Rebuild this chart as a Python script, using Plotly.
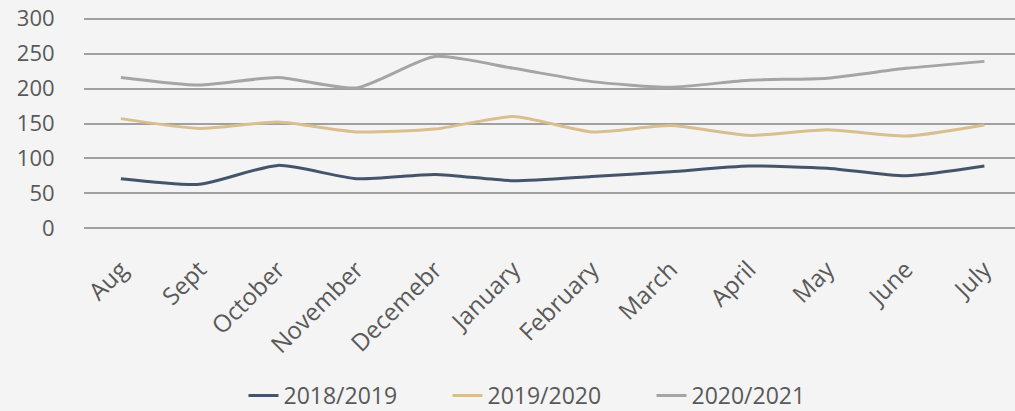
import plotly.graph_objects as go

months = ["Aug", "Sept", "October", "November", "Decemebr", "January",
          "February", "March", "April", "May", "June", "July"]
s_2018_2019 = [71, 63, 90, 71, 77, 68, 74, 81, 89, 86, 75, 89]
s_2019_2020 = [157, 143, 152, 138, 142, 160, 138, 147, 133, 141, 132, 148]
s_2020_2021 = [216, 205, 216, 201, 246, 229, 210, 202, 212, 215, 229, 239]
y_ticks = [0, 50, 100, 150, 200, 250, 300]

series = [
    ("2018/2019", s_2018_2019, "#44546A"),
    ("2019/2020", s_2019_2020, "#D9BE8F"),
    ("2020/2021", s_2020_2021, "#A5A5A5"),
]

fig = go.Figure()
for name, vals, color in series:
    fig.add_trace(go.Scatter(
        x=list(range(len(months))), y=vals, name=name, mode="lines",
        line=dict(color=color, width=3, shape="spline", smoothing=0.6),
    ))

font_family = "Open Sans, Noto Sans, sans-serif"
fig.update_layout(
    width=1015, height=411,
    paper_bgcolor="#F4F4F4", plot_bgcolor="#F4F4F4",
    margin=dict(l=84, r=0, t=16, b=180, autoexpand=False),
    font=dict(family=font_family, size=22, color="#595959"),
    showlegend=True,
    legend=dict(orientation="h", x=0.5, xanchor="center", y=-0.765, yanchor="middle",
                font=dict(size=23, color="#595959"), bgcolor="rgba(0,0,0,0)",
                entrywidth=159, entrywidthmode="pixels"),
)
fig.update_xaxes(
    tickmode="array", tickvals=list(range(len(months))), ticktext=months,
    range=[-0.47, 11.39], tickangle=-45, showgrid=False, zeroline=False,
    showline=False, ticks="outside", ticklen=14, tickcolor="rgba(0,0,0,0)",
    tickfont=dict(size=24, color="#595959"), automargin=False,
)
fig.update_yaxes(
    range=[-4, 304], tickvals=y_ticks, showgrid=True, gridcolor="#A0A0A0",
    gridwidth=1.5, zeroline=False, showline=False,
    ticks="outside", ticklen=24, tickcolor="rgba(0,0,0,0)",
    tickfont=dict(size=22, color="#595959"), automargin=False,
)

fig.write_html("out.html", config={"displayModeBar": False},
               post_script="document.body.style.margin='0';document.body.style.background='#F4F4F4';")
